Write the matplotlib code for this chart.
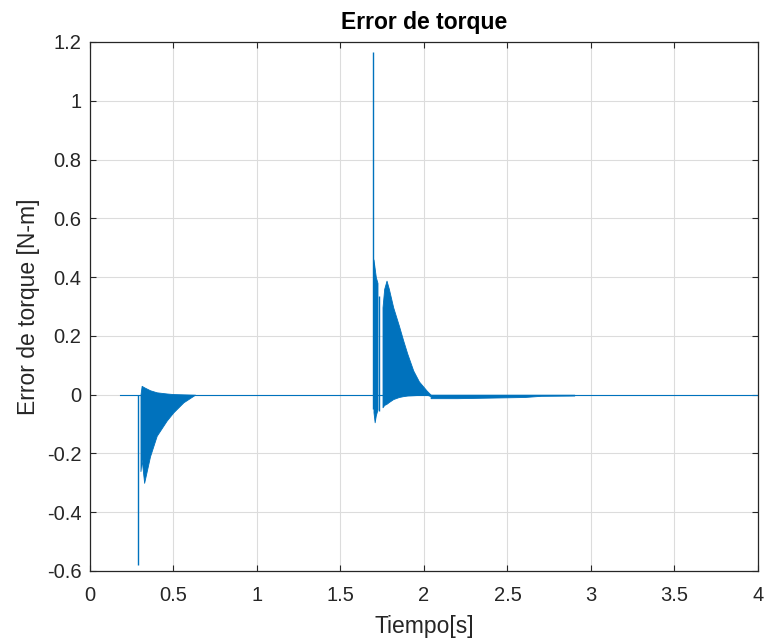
import matplotlib
matplotlib.use("Agg")
import matplotlib.pyplot as plt
import numpy as np

plt.rcParams['font.family'] = ['Liberation Sans', 'DejaVu Sans']

# ---- data ----
# baseline (signal resting at zero)
base_t = [0.18, 4.0]
base_v = [0.0, 0.0]

# isolated spikes: time, min value, max value
spike_t = [0.287, 1.697, 1.733]
spike_lo = [-0.58, -0.05, -0.054]
spike_hi = [0.0, 1.167, 0.337]

# burst 1 envelope (around t = 0.3 s)
b1_t = [0.303, 0.31, 0.325, 0.36, 0.40, 0.46, 0.50, 0.56, 0.63]
b1_hi = [0.0, 0.03, 0.025, 0.015, 0.008, 0.004, 0.002, 0.001, 0.0]
b1_lo = [-0.26, -0.22, -0.30, -0.21, -0.14, -0.088, -0.06, -0.026, 0.0]

# burst 2a envelope (right after t = 1.7 s)
b2a_t = [1.698, 1.705, 1.712, 1.722]
b2a_hi = [0.46, 0.43, 0.40, 0.38]
b2a_lo = [-0.06, -0.094, -0.07, -0.05]

# burst 2b envelope
b2b_t = [1.752, 1.762, 1.776, 1.79, 1.816, 1.85, 1.876, 1.90, 1.936, 1.97, 2.016, 2.04]
b2b_hi = [0.297, 0.36, 0.388, 0.36, 0.297, 0.235, 0.184, 0.14, 0.082, 0.045, 0.014, 0.0]
b2b_lo = [-0.043, -0.035, -0.031, -0.025, -0.015, -0.008, -0.005, -0.003, -0.002, -0.001, 0.0, -0.005]

# small negative tail after the second burst
tail_t = [2.04, 2.2, 2.4, 2.6, 2.7, 2.9]
tail_lo = [-0.012, -0.012, -0.01, -0.008, -0.004, -0.003]
tail_hi = [0.0, 0.0, 0.0, 0.0, 0.0, 0.0]

xticks = [0, 0.5, 1, 1.5, 2, 2.5, 3, 3.5, 4]
yticks = [-0.6, -0.4, -0.2, 0, 0.2, 0.4, 0.6, 0.8, 1, 1.2]

col = '#0072BD'
axc = '#262626'

fig = plt.figure(figsize=(7.68, 6.42), dpi=100)
ax = fig.add_axes([0.117, 0.1106, 0.870, 0.824])

ax.plot(base_t, base_v, color=col, lw=0.8)
ax.vlines(spike_t, spike_lo, spike_hi, color=col, lw=1.0)
for t, lo, hi in [(b1_t, b1_lo, b1_hi), (b2a_t, b2a_lo, b2a_hi),
                  (b2b_t, b2b_lo, b2b_hi), (tail_t, tail_lo, tail_hi)]:
    ax.fill_between(t, lo, hi, color=col, lw=0.6, edgecolor=col)

ax.set_xlim(0, 4)
ax.set_ylim(-0.6, 1.2)
ax.set_xticks(xticks)
ax.set_xticklabels([f'{v:g}' for v in xticks])
ax.set_yticks(yticks)
ax.set_yticklabels([f'{v:g}' for v in yticks])

ax.grid(True, color='#dcdcdc', lw=0.8)
ax.set_axisbelow(True)
for s in ax.spines.values():
    s.set_color(axc)
    s.set_linewidth(0.9)
ax.tick_params(direction='in', top=True, right=True, length=4, width=0.8,
               colors=axc, labelsize=14.5)
ax.tick_params(axis='x', pad=11)
ax.tick_params(axis='y', pad=6)
for lab in ax.get_xticklabels() + ax.get_yticklabels():
    lab.set_color(axc)

ax.set_title('Error de torque', fontsize=16.5, fontweight='bold', color='#000000', pad=9)
ax.set_xlabel('Tiempo[s]', fontsize=16.5, color=axc, labelpad=7)
ax.set_ylabel('Error de torque [N-m]', fontsize=16.5, color=axc, labelpad=5)

fig.savefig('out.png', dpi=100)
